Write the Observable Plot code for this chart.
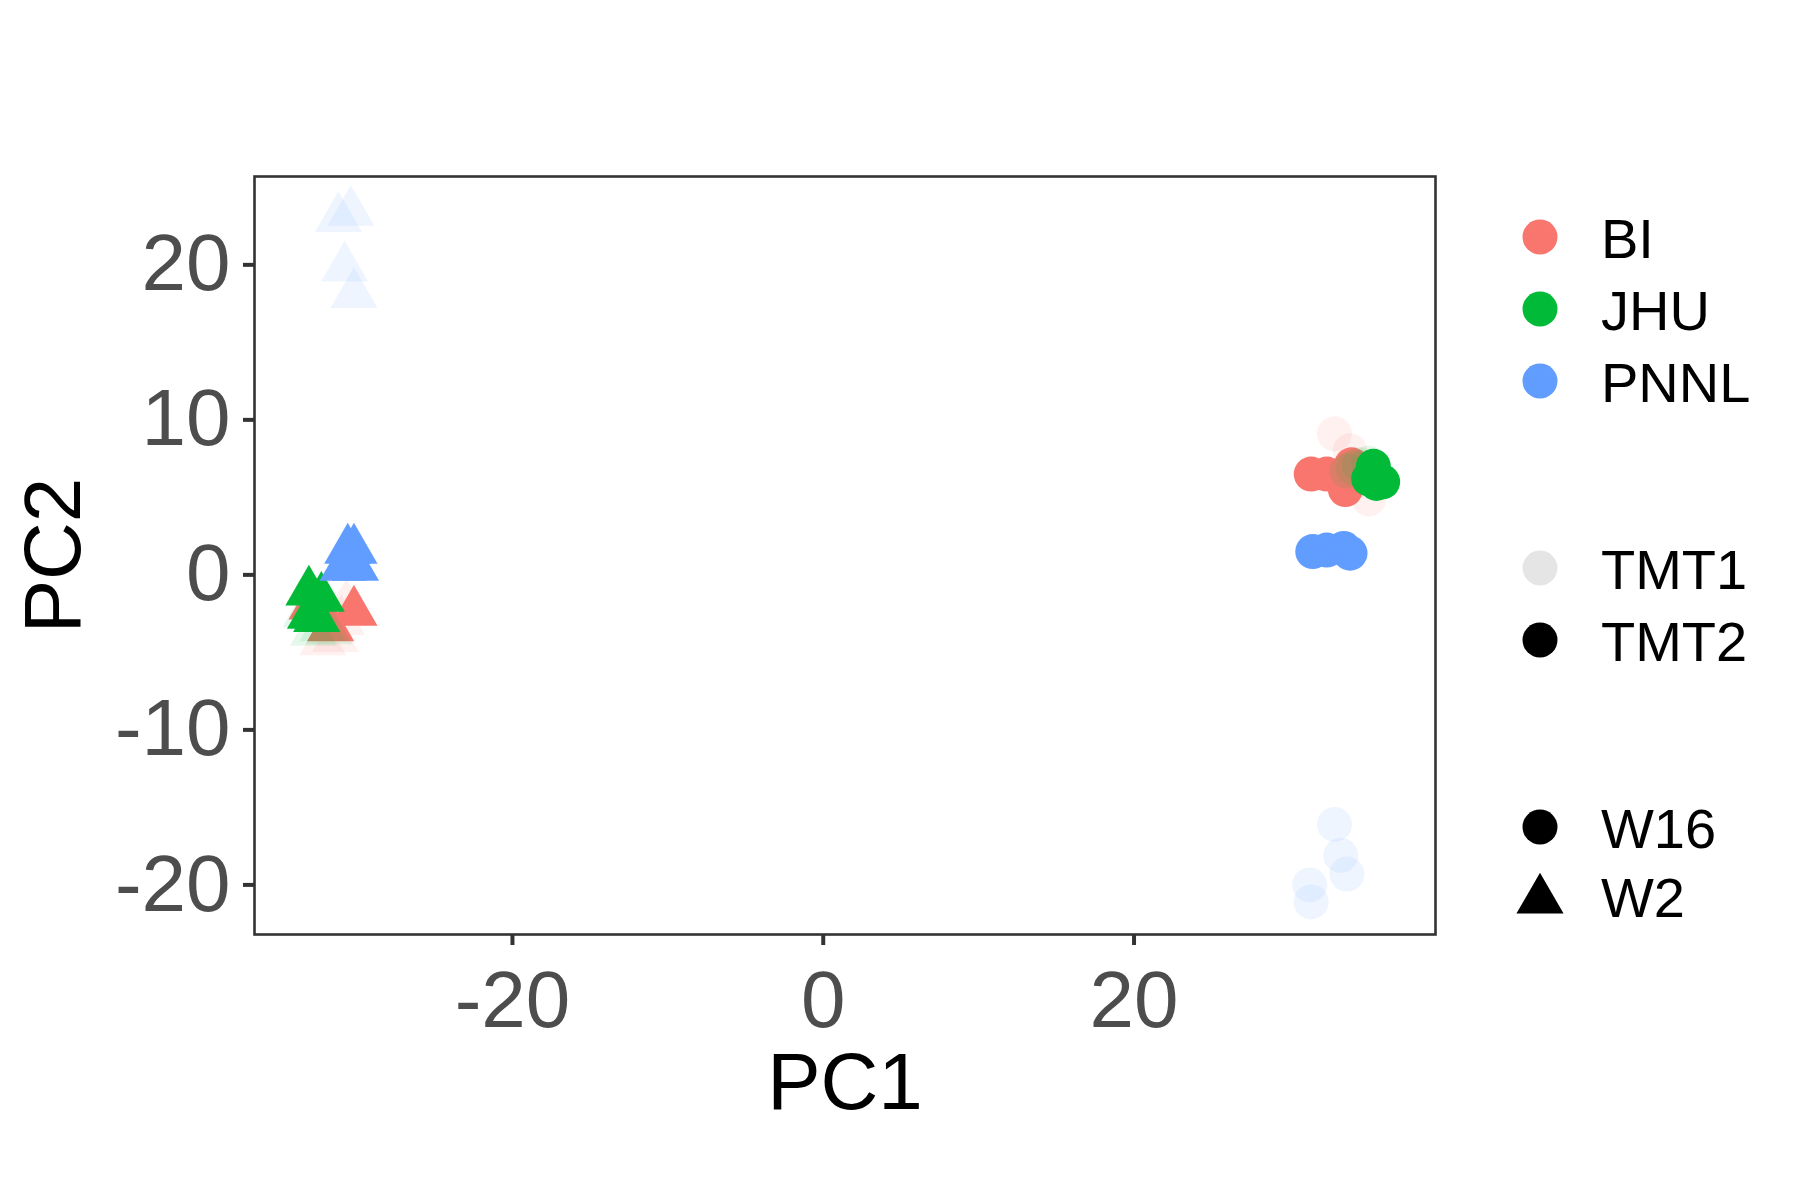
<!DOCTYPE html>
<html>
<head>
<meta charset="utf-8">
<script src="https://cdn.jsdelivr.net/npm/d3@7"></script>
<script src="https://cdn.jsdelivr.net/npm/@observablehq/plot@0.6"></script>
<style>
  html, body { margin: 0; padding: 0; background: #fff; }
  #wrap { position: relative; width: 1800px; height: 1200px; font-family: "Liberation Sans", Arial, sans-serif; }
  #legend { position: absolute; left: 0; top: 0; pointer-events: none; }
  #wrap [aria-label="x-axis label"] text, #wrap [aria-label="y-axis label"] text { fill: #000; }
  #wrap [aria-label="x-axis tick"], #wrap [aria-label="y-axis tick"] { stroke-width: 4px; stroke: #333333; }
</style>
</head>
<body>
<div id="wrap"></div>
<script>
// ---- categories ----
const labs = ["BI", "JHU", "PNNL"];
const labColors = ["#F8766D", "#00BA38", "#619CFF"];
const tmts = ["TMT1", "TMT2"];
const tmtAlpha = [0.1, 1];
const weeks = ["W16", "W2"];
const weekSymbols = ["circle", "triangle"];

// ---- samples ----
const sampleLab = [
  "BI","BI","BI","BI", "BI","BI","BI","BI",
  "BI","BI","BI","BI", "BI","BI","BI","BI",
  "JHU","JHU","JHU","JHU", "JHU","JHU","JHU","JHU",
  "JHU","JHU","JHU","JHU", "JHU","JHU","JHU","JHU",
  "PNNL","PNNL","PNNL","PNNL","PNNL", "PNNL","PNNL","PNNL","PNNL",
  "PNNL","PNNL","PNNL","PNNL", "PNNL","PNNL","PNNL","PNNL"
];
const sampleTmt = [
  "TMT1","TMT1","TMT1","TMT1", "TMT1","TMT1","TMT1","TMT1",
  "TMT2","TMT2","TMT2","TMT2", "TMT2","TMT2","TMT2","TMT2",
  "TMT1","TMT1","TMT1","TMT1", "TMT1","TMT1","TMT1","TMT1",
  "TMT2","TMT2","TMT2","TMT2", "TMT2","TMT2","TMT2","TMT2",
  "TMT1","TMT1","TMT1","TMT1","TMT1", "TMT1","TMT1","TMT1","TMT1",
  "TMT2","TMT2","TMT2","TMT2", "TMT2","TMT2","TMT2","TMT2"
];
const sampleWeek = [
  "W16","W16","W16","W16", "W2","W2","W2","W2",
  "W16","W16","W16","W16", "W2","W2","W2","W2",
  "W16","W16","W16","W16", "W2","W2","W2","W2",
  "W16","W16","W16","W16", "W2","W2","W2","W2",
  "W16","W16","W16","W16","W16", "W2","W2","W2","W2",
  "W16","W16","W16","W16", "W2","W2","W2","W2"
];
const pc1 = [
  32.9, 33.9, 35.1, 34.4,   -30.7, -32.2, -31.4, -31.0,
  31.4, 32.4, 33.6, 34.0,   -30.2, -31.7, -32.9, -32.5,
  33.7, 34.1, 34.5, 35.1,   -32.8, -33.3, -32.2, -31.8,
  35.4, 36.0, 35.1, 35.6,   -33.1, -32.3, -32.6, -33.0,
  32.9, 33.3, 33.7, 31.3, 31.4,   -30.4, -31.2, -30.8, -30.2,
  31.5, 32.4, 33.5, 33.9,   -30.6, -30.2, -30.9, -30.1
];
const pc2 = [
  9.1, 8.0, 4.9, 6.9,       -2.0, -4.3, -4.1, -3.0,
  6.5, 6.5, 5.5, 7.1,       -2.4, -3.4, -2.0, -2.4,
  6.7, 6.9, 7.1, 7.2,       -3.7, -2.5, -3.4, -3.6,
  7.0, 6.0, 6.2, 5.9,       -1.1, -1.5, -2.8, -2.6,
  -16.1, -18.1, -19.3, -20.0, -21.1,   23.4, 23.0, 19.8, 18.1,
  1.5, 1.6, 1.7, 1.4,       1.6, 1.6, 0.5, 0.5
];

// ---- axis ticks ----
const xTicks = [-20, 0, 20];
const yTicks = [-20, -10, 0, 10, 20];

const data = pc1.map((v, i) => ({
  pc1: v, pc2: pc2[i], lab: sampleLab[i], tmt: sampleTmt[i], week: sampleWeek[i]
}));

const chart = Plot.plot({
  width: 1800,
  height: 1200,
  marginLeft: 254,
  marginRight: 365,
  marginTop: 176,
  marginBottom: 266,
  style: { fontFamily: "Liberation Sans, Arial, sans-serif", background: "#fff" },
  x: { domain: [-36.6, 39.4] },
  y: { domain: [-23.2, 25.7] },
  color: { domain: labs, range: labColors },
  opacity: { domain: [0, 1], range: [0, 1] },
  symbol: { domain: weeks, range: weekSymbols },
  marks: [
    Plot.dot(data, {
      x: "pc1", y: "pc2",
      fill: "lab",
      fillOpacity: d => tmtAlpha[tmts.indexOf(d.tmt)],
      symbol: "week",
      r: 17.5
    }),
    Plot.frame({ stroke: "#333333", strokeWidth: 2.6 }),
    Plot.axisX({
      ticks: xTicks, tickFormat: d => String(d),
      tickSize: 11, tickPadding: 25, fontSize: 80,
      stroke: "#333333", strokeWidth: 4, fill: "#4D4D4D",
      label: "PC1", labelAnchor: "center", labelArrow: "none", labelOffset: 174
    }),
    Plot.axisY({
      ticks: yTicks, tickFormat: d => String(d),
      tickSize: 11, tickPadding: 13, fontSize: 80,
      stroke: "#333333", strokeWidth: 4, fill: "#4D4D4D",
      label: "PC2", labelAnchor: "center", labelArrow: "none", labelOffset: 231
    })
  ]
});
document.getElementById("wrap").appendChild(chart);

// ---- legend ----
const legendLabels = ["BI", "JHU", "PNNL", "TMT1", "TMT2", "W16", "W2"];
const legendFill = ["#F8766D", "#00BA38", "#619CFF", "#000", "#000", "#000", "#000"];
const legendAlpha = [1, 1, 1, 0.1, 1, 1, 1];
const legendShape = ["circle", "circle", "circle", "circle", "circle", "circle", "triangle"];
const legendRowY = [237, 309, 381, 568, 640, 827, 896];

const svg = d3.select("#wrap").append("svg")
  .attr("id", "legend").attr("width", 1800).attr("height", 1200);
const sym = { circle: d3.symbolCircle, triangle: d3.symbolTriangle };
const rows = svg.selectAll("g").data(legendLabels).join("g")
  .attr("transform", (d, i) => `translate(1540,${legendRowY[i]})`);
rows.append("path")
  .attr("d", (d, i) => d3.symbol(sym[legendShape[i]], Math.PI * 17.5 * 17.5)())
  .attr("transform", (d, i) => legendShape[i] === "triangle" ? "translate(0,4)" : null)
  .attr("fill", (d, i) => legendFill[i])
  .attr("fill-opacity", (d, i) => legendAlpha[i]);
rows.append("text")
  .attr("x", 61).attr("y", 21)
  .attr("font-family", "Liberation Sans, Arial, sans-serif")
  .attr("font-size", 56).attr("fill", "#000")
  .text(d => d);
</script>
</body>
</html>
